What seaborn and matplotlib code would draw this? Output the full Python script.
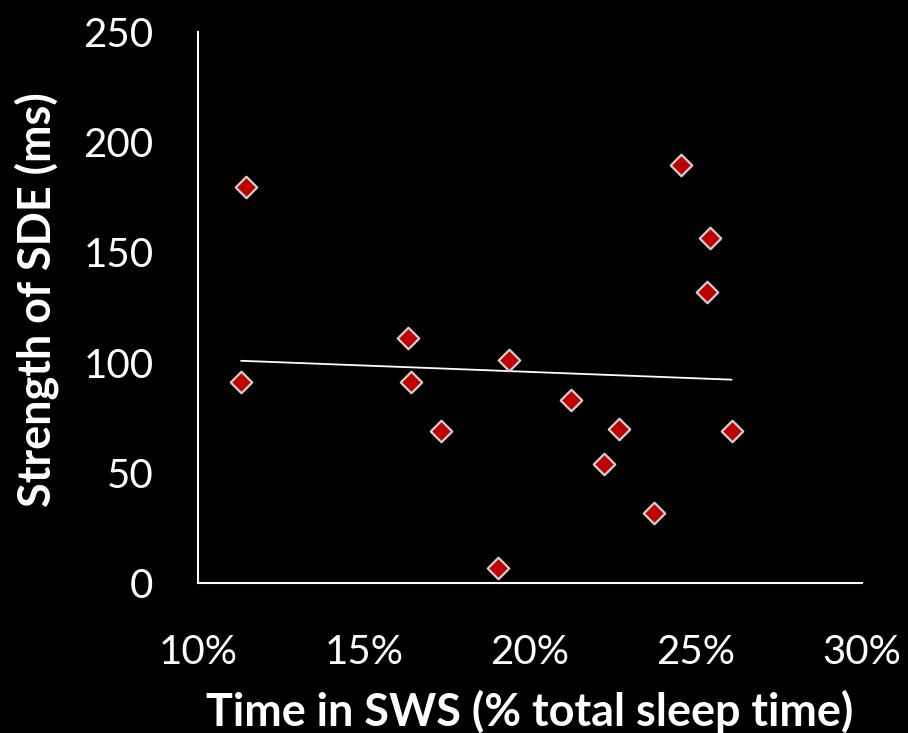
import numpy as np
import pandas as pd
import matplotlib
matplotlib.use("Agg")
import matplotlib.pyplot as plt
import seaborn as sns

sws_pct = [11.3, 11.45, 16.33, 16.42, 17.32, 19.04, 19.37, 21.23, 22.23, 22.68, 23.73, 24.55, 25.33, 25.42, 26.08]
sde_ms = [91, 179.5, 111, 91, 69, 7, 101, 83, 54, 70, 32, 189.5, 132, 156.5, 69]
x_ticks = [10, 15, 20, 25, 30]
x_tick_labels = ["10%", "15%", "20%", "25%", "30%"]
y_ticks = [0, 50, 100, 150, 200, 250]

df = pd.DataFrame({"sws": sws_pct, "sde": sde_ms})

sns.set_theme(style="white")
plt.rcParams['font.family'] = ['Lato', 'DejaVu Sans']

fig = plt.figure(figsize=(9.08, 7.33), dpi=100, facecolor="black")
ax = fig.add_axes([0.218, 0.2046, 0.731, 0.7517])
ax.set_facecolor("black")

sns.scatterplot(data=df, x="sws", y="sde", marker="D", s=120, color="#C00000",
                edgecolor="#d0d0d0", linewidth=1.6, ax=ax, zorder=3)

slope, intercept = np.polyfit(df["sws"], df["sde"], 1)
xs = np.array([min(sws_pct), max(sws_pct)])
ax.plot(xs, slope * xs + intercept, color="white", linewidth=1.3, zorder=2)

ax.set_xlim(10, 30)
ax.set_ylim(0, 250)
ax.set_xticks(x_ticks)
ax.set_xticklabels(x_tick_labels)
ax.set_yticks(y_ticks)
ax.tick_params(axis="both", colors="white", labelsize=29, length=0)
ax.tick_params(axis="x", pad=37)
ax.tick_params(axis="y", pad=32)

for s in ["top", "right"]:
    ax.spines[s].set_visible(False)
for s in ["left", "bottom"]:
    ax.spines[s].set_color("white")
    ax.spines[s].set_linewidth(1.5)

ax.set_xlabel("Time in SWS (% total sleep time)", color="white", fontsize=32.4,
              fontweight="bold")
ax.set_ylabel("Strength of SDE (ms)", color="white", fontsize=32.4,
              fontweight="bold")
ax.yaxis.set_label_coords(-0.2435, 0.515)
ax.xaxis.set_label_coords(0.5, -0.2335)
ax.xaxis.label.set_verticalalignment("center")
ax.yaxis.label.set_verticalalignment("center")

fig.savefig("out.png", dpi=100, facecolor="black")
